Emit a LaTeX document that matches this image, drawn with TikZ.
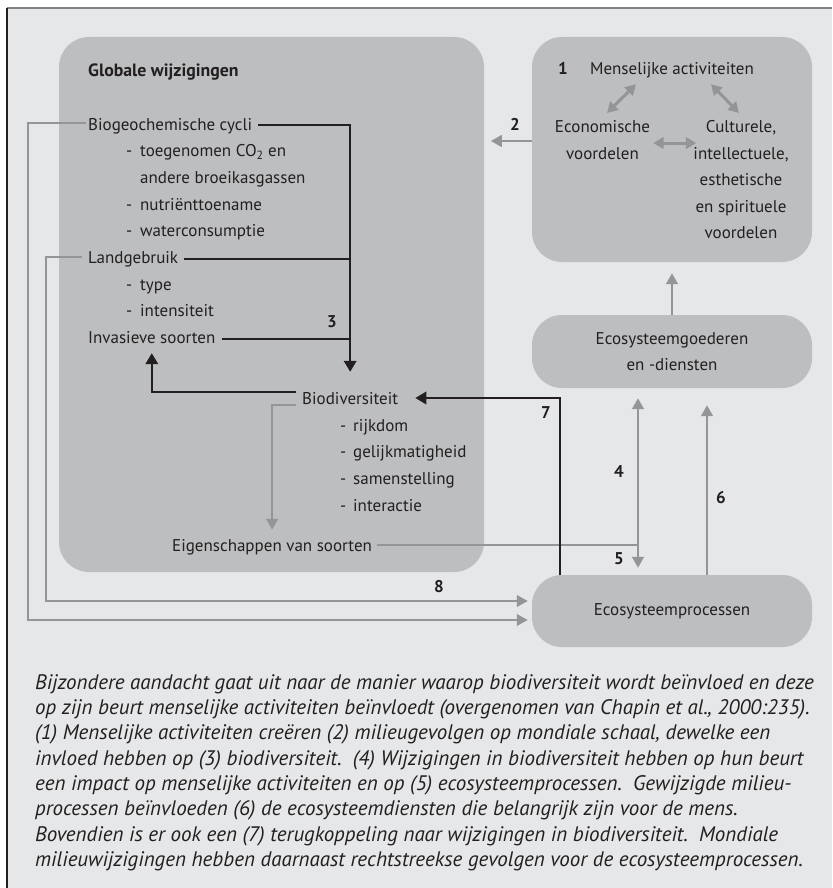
\documentclass[tikz,border=0pt]{standalone}
\usepackage{fontspec}
\setmainfont{PT Sans}
\newfontfamily\capfont{PT Sans}
\usetikzlibrary{arrows.meta}

\definecolor{bgcol}{HTML}{E6E7E8}
\definecolor{boxcol}{HTML}{BCBEC0}
\definecolor{arrgray}{HTML}{939598}
\definecolor{ink}{HTML}{231F20}
\definecolor{rulecol}{HTML}{808285}

\tikzset{
  lbl/.style={inner sep=0pt, text height=12pt, text depth=4pt, anchor=base west,
    font=\fontsize{17}{20}\selectfont, text=ink},
  num/.style={inner sep=0pt, anchor=base, font=\fontsize{17}{20}\selectfont\bfseries, text=ink},
  block/.style={inner sep=0pt, align=center, font=\fontsize{17}{26.5}\selectfont, text=ink},
  panel/.style={fill=boxcol, rounded corners=30pt, inner sep=0pt},
  blk/.style={draw=ink, line width=2.2pt},
  gry/.style={draw=arrgray, line width=2.7pt},
  gryfine/.style={draw=arrgray, line width=2.2pt},
  tipg/.style={-{Triangle[length=11pt,width=11.5pt]}},
  tipb/.style={-{Triangle[length=11pt,width=12.5pt]}},
  dbl/.style={draw=arrgray, line width=3pt,
    {Triangle[length=10.5pt,width=11.5pt]}-{Triangle[length=10.5pt,width=11.5pt]}},
}

\begin{document}
\begin{tikzpicture}[x=1pt, y=-1pt]
\useasboundingbox (0,0) rectangle (832,888);

% frame
\fill[bgcol] (7,8) rectangle (832,888);
\draw[rulecol, line width=1.5pt] (7,8) -- (832,8);
\draw[ink, line width=1.2pt] (7,8) -- (7,888);

% panels
\node[panel, minimum width=425pt, minimum height=535pt] (glob) at (271.5,304.5) {};
\node[panel, minimum width=280pt, minimum height=225pt] (mens) at (672,149.5) {};
\node[panel, block, minimum width=280pt, minimum height=73pt] (goed) at (672,351.5)
  {Ecosysteemgoederen\\en -diensten};
\node[panel, font=\fontsize{17}{20}\selectfont, text=ink, text height=12pt, text depth=4pt,
  minimum width=280pt, minimum height=72pt] (proc) at (672,611) {Ecosysteemprocessen};

% global changes
\node[lbl, font=\fontsize{17.8}{20}\selectfont\bfseries] (head) at (88,77) {Globale wijzigingen};
\node[lbl] (biogeo) at (88,130) {Biogeochemische cycli};
\node[lbl] (co2) at (126,157) {\makebox[14pt][l]{-}toegenomen CO\textsubscript{2} en};
\node[lbl] (bkg) at (140,183) {andere broeikasgassen};
\node[lbl] (nutr) at (126,210) {\makebox[14pt][l]{-}nutriënttoename};
\node[lbl] (water) at (126,236) {\makebox[14pt][l]{-}waterconsumptie};
\node[lbl] (landg) at (88,263) {Landgebruik};
\node[lbl] (type) at (126,290) {\makebox[14pt][l]{-}type};
\node[lbl] (intens) at (126,316) {\makebox[14pt][l]{-}intensiteit};
\node[lbl] (invas) at (88,343) {Invasieve soorten};
\node[lbl] (biodiv) at (302,404) {Biodiversiteit};
\node[lbl] (rijk) at (340,431) {\makebox[13pt][l]{-}rijkdom};
\node[lbl] (gelijk) at (340,457) {\makebox[13pt][l]{-}gelijkmatigheid};
\node[lbl] (samen) at (340,484) {\makebox[13pt][l]{-}samenstelling};
\node[lbl] (inter) at (340,511) {\makebox[13pt][l]{-}interactie};
\node[lbl] (eigen) at (172,551) {Eigenschappen van soorten};

% human activities
\node[num] (n1) at (563,75) {1};
\node[lbl, anchor=base] (mact) at (672,75) {Menselijke activiteiten};
\node[block, anchor=north] (econ) at (602.5,120.5) {Economische\\voordelen};
\node[block, anchor=north] (cult) at (741,120.5)
  {Culturele,\\intellectuele,\\esthetische\\en spirituele\\voordelen};

% numbers
\node[num] (n2) at (515,130) {2};
\node[num] (n3) at (332,327) {3};
\node[num] (n4) at (619,477) {4};
\node[num] (n5) at (619,564) {5};
\node[num] (n6) at (721,503) {6};
\node[num] (n7) at (546,418) {7};
\node[num] (n8) at (439,592) {8};

% links inside the human activities panel
\draw[dbl] ([xshift=4.5pt,yshift=7.5pt]econ.north) -- ([xshift=-36pt,yshift=-5pt]mact.south);
\draw[dbl] ([xshift=39pt,yshift=-5pt]mact.south) -- ([xshift=-2pt,yshift=7.5pt]cult.north);
\draw[dbl] ([xshift=3pt,yshift=-3pt]econ.east) -- ([xshift=3pt,yshift=-3pt]econ.east -| cult.west);

% (2) human activities -> global changes
\draw[gry, tipg] ([yshift=8.5pt]mens.west) -- ++(-41,0);

% (3) global changes -> biodiversity
\draw[blk, tipb] ([xshift=6pt,yshift=1pt]biogeo.east) -| ([yshift=20pt]biodiv.north);
\draw[blk] ([xshift=6pt]landg.east) -- (landg.east -| biodiv.north);
\draw[blk] ([xshift=6pt]invas.east) -- (invas.east -| biodiv.north);

% biodiversity -> invasive species, species traits
\draw[blk, tipb] ([xshift=-6pt,yshift=8pt]biodiv.west) -| ([yshift=-6pt]invas.south);
\draw[gry, tipg] ([xshift=-6pt,yshift=-5pt]biodiv.west) -| ([yshift=9pt]eigen.north);

% (4)/(5) species traits -> services and processes
\coordinate (v45) at ([xshift=-34pt]goed.south);
\path ([yshift=2pt]eigen.east) coordinate (e45);
\draw[gryfine] ([xshift=5pt]e45) -- (v45 |- e45);
\draw[gry, {Triangle[length=11pt,width=11.5pt]}-{Triangle[length=11pt,width=11.5pt]}]
  ([yshift=-10pt]v45) -- ([xshift=-34pt,yshift=7pt]proc.north);

% (6) processes -> services
\coordinate (v6) at ([xshift=35pt]goed.south);
\draw[gry, tipg] (v6 |- proc.north) -- ([yshift=-17pt]v6);

% services -> human activities
\draw[gry, tipg] (goed.north) -- ([yshift=-11pt]mens.south);

% (7) feedback to biodiversity
\coordinate (v7) at ([xshift=-112pt]proc.north);
\draw[blk, tipb] (v7) |- ([xshift=17pt,yshift=2pt]biodiv.east);

% (8) direct effects on ecosystem processes
\draw[gryfine, tipg] ([xshift=-2pt,yshift=3pt]biogeo.west) -- ++(-58,0)
  |- ([xshift=-4pt,yshift=-9pt]proc.west);
\draw[gryfine, tipg] ([xshift=-6pt,yshift=2pt]landg.west) -- ++(-36,0)
  |- ([xshift=-4pt,yshift=10pt]proc.west);

% caption
\node[inner sep=0pt, anchor=north west, align=left, text=ink,
  font=\capfont\itshape\fontsize{21}{25.3}\selectfont] (cap) at (35,672)
{\rule{0pt}{17pt}Bijzondere aandacht gaat uit naar de manier waarop biodiversiteit wordt beïnvloed en deze\\
op zijn beurt menselijke activiteiten beïnvloedt (overgenomen van Chapin et al., 2000:235).\\
(1) Menselijke activiteiten creëren (2) milieugevolgen op mondiale schaal, dewelke een\\
invloed hebben op (3) biodiversiteit.\ \ (4) Wijzigingen in biodiversiteit hebben op hun beurt\\
een impact op menselijke activiteiten en op (5) ecosysteemprocessen.\ \ Gewijzigde milieu-\\
processen beïnvloeden (6) de ecosysteemdiensten die belangrijk zijn voor de mens.\\
Bovendien is er ook een (7) terugkoppeling naar wijzigingen in biodiversiteit.\ \ Mondiale\\
milieuwijzigingen hebben daarnaast rechtstreekse gevolgen voor de ecosysteemprocessen.};
\end{tikzpicture}
\end{document}
